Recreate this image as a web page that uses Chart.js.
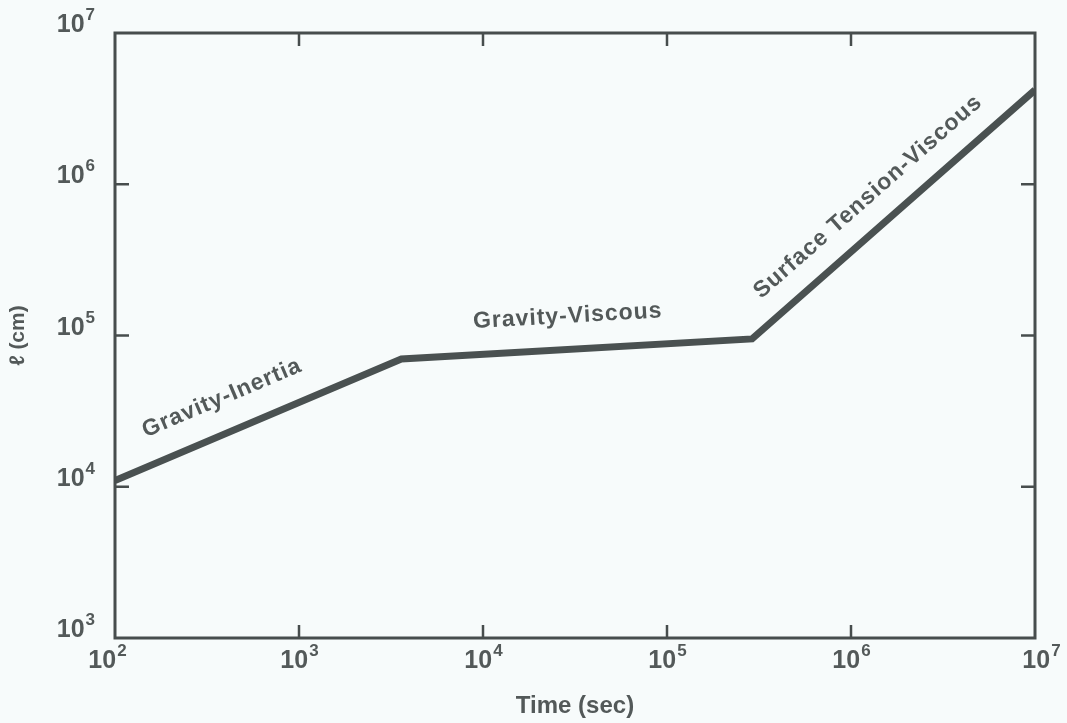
<!DOCTYPE html>
<html>
<head>
<meta charset="utf-8">
<script src="https://cdn.jsdelivr.net/npm/chart.js@4.4.1/dist/chart.umd.min.js"></script>
<style>
  html, body { margin: 0; padding: 0; background: #f7fbfb; }
  #wrap { width: 1067px; height: 723px; }
</style>
</head>
<body>
<div id="wrap"><canvas id="chart"></canvas></div>
<script>
// spreading regimes, log-log
const timeSec = [1e2, 3.6e3, 2.9e5, 1e7];
const lengthCm = [1.1e4, 7.0e4, 9.5e4, 4.2e6];
const xTicks = [1e2, 1e3, 1e4, 1e5, 1e6, 1e7];
const yTicks = [1e3, 1e4, 1e5, 1e6, 1e7];
const segmentLabels = ["Gravity-Inertia", "Gravity-Viscous", "Surface Tension-Viscous"];

const ink = "#4a5151";
const textCol = "#535959";
const fam = "'Liberation Sans', Arial, sans-serif";

function exponent(v) {
  return String(Math.round(Math.log10(v)));
}

function drawPower(ctx, v, x, y, align) {
  ctx.save();
  ctx.fillStyle = textCol;
  ctx.textBaseline = "alphabetic";
  ctx.font = "bold 25px " + fam;
  const baseW = ctx.measureText("10").width;
  ctx.font = "bold 17px " + fam;
  const expW = ctx.measureText(exponent(v)).width;
  let left = x;
  if (align === "right") left = x - baseW - expW - 1;
  if (align === "center") left = x - (baseW + expW) / 2;
  ctx.font = "bold 25px " + fam;
  ctx.textAlign = "left";
  ctx.fillText("10", left, y);
  ctx.font = "bold 17px " + fam;
  ctx.fillText(exponent(v), left + baseW + 1, y - 12);
  ctx.restore();
}

const framePlugin = {
  id: "frame",
  afterDraw(chart) {
    const ctx = chart.ctx;
    const a = chart.chartArea;
    const xs = chart.scales.x;
    const ys = chart.scales.y;
    ctx.save();
    ctx.strokeStyle = "#474d4d";
    ctx.lineWidth = 3;
    ctx.strokeRect(a.left, a.top, a.right - a.left, a.bottom - a.top);
    ctx.lineWidth = 2.5;
    ctx.beginPath();
    xTicks.slice(1, -1).forEach(v => {
      const px = xs.getPixelForValue(v);
      ctx.moveTo(px, a.bottom);
      ctx.lineTo(px, a.bottom - 13);
      ctx.moveTo(px, a.top);
      ctx.lineTo(px, a.top + 13);
    });
    yTicks.slice(1, -1).forEach(v => {
      const py = ys.getPixelForValue(v);
      ctx.moveTo(a.left, py);
      ctx.lineTo(a.left + 14, py);
      ctx.moveTo(a.right, py);
      ctx.lineTo(a.right - 14, py);
    });
    ctx.stroke();
    ctx.restore();

    // tick labels
    yTicks.forEach(v => {
      drawPower(ctx, v, a.left - 20, ys.getPixelForValue(v) - 1, "right");
    });
    xTicks.forEach((v, i) => {
      let px = xs.getPixelForValue(v);
      if (i === 0) px -= 8;
      if (i === xTicks.length - 1) px += 6;
      drawPower(ctx, v, px, a.bottom + 30, "center");
    });

    // regime labels along the line segments
    const offsets = [
      { t: 0.42, d: 34 },
      { t: 0.48, d: 33 },
      { t: 0.48, d: 30 }
    ];
    ctx.save();
    ctx.fillStyle = textCol;
    ctx.font = "bold 23px " + fam;
    ctx.letterSpacing = "1px";
    ctx.textAlign = "center";
    ctx.textBaseline = "middle";
    segmentLabels.forEach((label, i) => {
      const x0 = xs.getPixelForValue(timeSec[i]);
      const y0 = ys.getPixelForValue(lengthCm[i]);
      const x1 = xs.getPixelForValue(timeSec[i + 1]);
      const y1 = ys.getPixelForValue(lengthCm[i + 1]);
      const ang = Math.atan2(y1 - y0, x1 - x0);
      const o = offsets[i];
      const cx = x0 + (x1 - x0) * o.t + Math.sin(ang) * o.d;
      const cy = y0 + (y1 - y0) * o.t - Math.cos(ang) * o.d;
      ctx.save();
      ctx.translate(cx, cy);
      ctx.rotate(ang);
      ctx.fillText(label, 0, 0);
      ctx.restore();
    });
    ctx.restore();
  }
};

new Chart(document.getElementById("chart"), {
  type: "line",
  data: {
    datasets: [{
      data: timeSec.map((t, i) => ({ x: t, y: lengthCm[i] })),
      borderColor: ink,
      borderWidth: 7,
      pointRadius: 0,
      tension: 0,
      borderJoinStyle: "miter",
      borderCapStyle: "butt"
    }]
  },
  options: {
    responsive: true,
    maintainAspectRatio: false,
    animation: false,
    layout: { padding: { top: 33, right: 32, left: 0, bottom: 0 } },
    plugins: {
      legend: { display: false },
      tooltip: { enabled: false }
    },
    scales: {
      x: {
        type: "logarithmic",
        min: 1e2,
        max: 1e7,
        afterBuildTicks: s => { s.ticks = xTicks.map(v => ({ value: v })); },
        afterFit: s => { s.height = 85; },
        ticks: { display: false },
        grid: { display: false },
        border: { display: false },
        title: {
          display: true,
          text: "Time (sec)",
          color: textCol,
          font: { family: fam, size: 24, weight: "bold" },
          padding: { top: 0, bottom: 2 }
        }
      },
      y: {
        type: "logarithmic",
        min: 1e3,
        max: 1e7,
        afterBuildTicks: s => { s.ticks = yTicks.map(v => ({ value: v })); },
        afterFit: s => { s.width = 115; },
        ticks: { display: false },
        grid: { display: false },
        border: { display: false },
        title: {
          display: true,
          text: "ℓ (cm)",
          color: textCol,
          font: { family: fam, size: 21, weight: "bold" },
          padding: { top: 6, bottom: 0 }
        }
      }
    }
  },
  plugins: [framePlugin]
});
</script>
</body>
</html>
